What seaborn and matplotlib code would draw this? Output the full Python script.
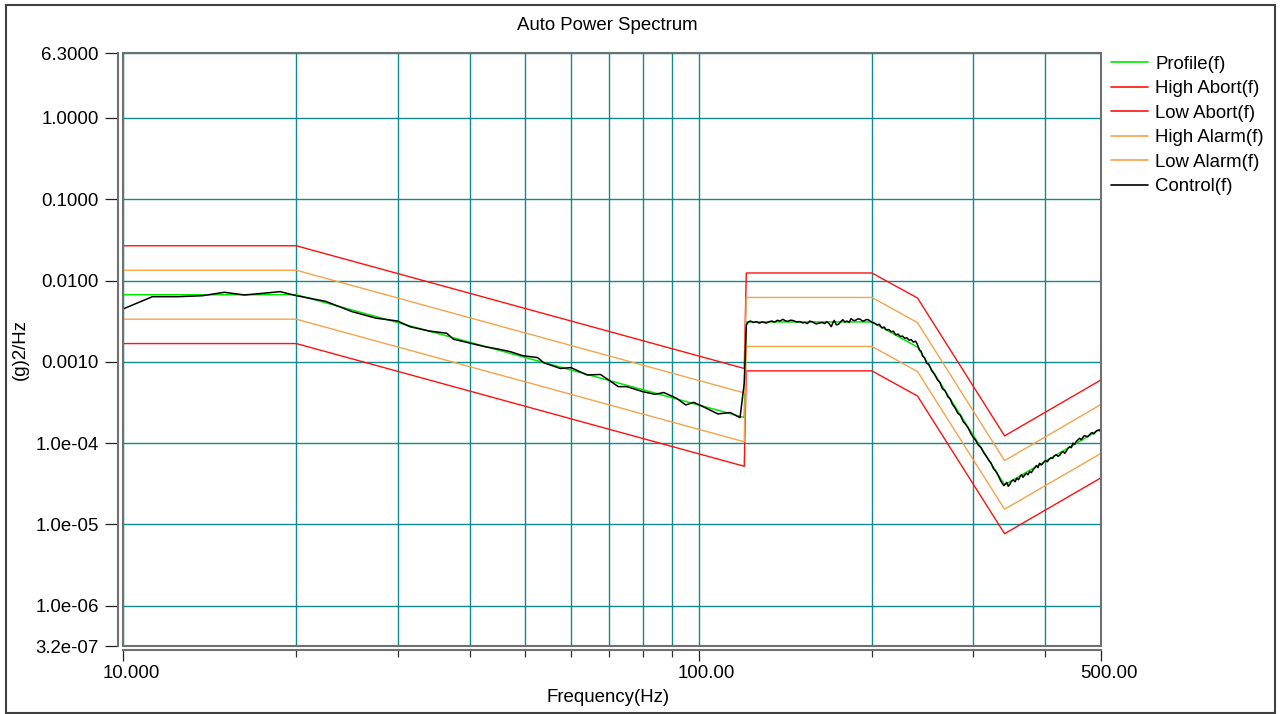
import numpy as np
import pandas as pd
import matplotlib
matplotlib.use("Agg")
import matplotlib.pyplot as plt
import seaborn as sns
from matplotlib.patches import Rectangle
from matplotlib.ticker import FixedLocator, NullLocator, FixedFormatter
from matplotlib.transforms import ScaledTranslation

# ---------------- data ----------------
limit_freq = [10, 20, 120, 121, 200, 240, 340, 500]
profile = [0.0067, 0.0067, 2.07e-4, 3.1e-3, 3.1e-3, 1.52e-3, 3.07e-5, 1.5e-4]
high_abort = [0.0268, 0.0268, 8.3e-4, 0.0124, 0.0124, 6.1e-3, 1.23e-4, 6.0e-4]
low_abort = [0.00168, 0.00168, 5.2e-5, 7.75e-4, 7.75e-4, 3.8e-4, 7.7e-6, 3.75e-5]
high_alarm = [0.0134, 0.0134, 4.15e-4, 6.2e-3, 6.2e-3, 3.04e-3, 6.1e-5, 3.0e-4]
low_alarm = [0.00335, 0.00335, 1.04e-4, 1.55e-3, 1.55e-3, 7.6e-4, 1.54e-5, 7.5e-5]

# control spectrum (frequency Hz, value g^2/Hz)
control_points = [
    (10, 0.00447), (11.25, 0.00634), (12.5, 0.00634), (13.75, 0.00652), (15, 0.00718),
    (16.25, 0.00665), (17.5, 0.00697), (18.75, 0.00731), (20, 0.00652), (22.5, 0.00555),
    (25, 0.00415), (27.5, 0.00345), (30, 0.00318), (31.5, 0.00271), (34, 0.0024),
    (36.5, 0.00225), (37.5, 0.0019), (39.5, 0.00174), (42.5, 0.00154), (45, 0.00143),
    (47, 0.00134), (49.5, 0.00119), (52.5, 0.00113), (53.75, 0.00098), (57.5, 0.00083),
    (60, 0.00085), (64, 0.00069), (67.5, 0.00070), (70, 0.00059), (72.5, 0.000496),
    (75, 0.000496), (80, 0.00043), (84, 0.000399), (87, 0.00042), (91.5, 0.000357),
    (95, 0.000295), (98, 0.000318), (101, 0.000289), (108, 0.000229), (113.5, 0.000238),
    (118, 0.000206), (120, 0.000546), (121, 0.00284), (122, 0.00310), (123, 0.00318),
    (124.5, 0.00305), (126, 0.00312), (127.5, 0.00300), (129, 0.00310), (131, 0.00300),
    (132.5, 0.00312), (134, 0.00318), (135.5, 0.00308), (137, 0.00325), (138.5, 0.00318),
    (140, 0.00334), (141.5, 0.00320), (143, 0.00315), (144.5, 0.00326), (146, 0.00322),
    (148, 0.00310), (150, 0.00313), (151.5, 0.00302), (153, 0.00305), (154.5, 0.00296),
    (156, 0.00318), (158, 0.00308), (160, 0.00293), (162, 0.00300), (164, 0.00305),
    (165.5, 0.00296), (167, 0.00312), (168.5, 0.00295), (170, 0.00271), (171, 0.00300),
    (172, 0.00324), (173.5, 0.00285), (175, 0.00290), (176.5, 0.00312), (178, 0.00330),
    (179.5, 0.00310), (181, 0.00318), (182.5, 0.00305), (184, 0.00340), (185.5, 0.00325),
    (187, 0.00322), (189, 0.00338), (191, 0.00334), (192.5, 0.00318), (194, 0.00320),
    (195.5, 0.00332), (197, 0.00330), (198.5, 0.00318), (200, 0.00307), (202, 0.00300),
    (204, 0.00285), (206, 0.00290), (208, 0.00262), (210, 0.00268), (212, 0.00247),
    (214, 0.00250), (216, 0.00235), (218, 0.00238), (220, 0.00215), (222, 0.00220),
    (224, 0.00205), (226, 0.00208), (228, 0.00195), (230, 0.00198), (232, 0.00185),
    (234, 0.00188), (236, 0.00175), (238, 0.00180), (239.5, 0.00168), (242, 0.0014),
    (243.5, 0.00135), (245, 0.00118), (247, 0.00112), (249, 0.00096), (251, 0.00094),
    (254, 0.00078), (257, 0.00070), (260, 0.0006), (262.5, 0.00056), (265, 0.00047),
    (268, 0.00044), (271, 0.000373), (273.5, 0.00035), (276, 0.0003), (279, 0.00027),
    (282, 0.000233), (285, 0.00022), (288, 0.000185), (291, 0.00017), (294, 0.000153),
    (297, 0.000132), (300, 0.000118), (303, 0.000108), (306, 9.5e-5), (309.5, 8.8e-5),
    (313, 7.6e-5), (316, 6.9e-5), (319, 6.2e-5), (322, 5.7e-5), (325, 4.9e-5),
    (327.5, 4.6e-5), (330, 4.26e-5), (332.5, 3.8e-5), (335, 3.4e-5), (337, 3.2e-5),
    (339, 3.0e-5), (341, 3.15e-5), (343, 3.3e-5), (345, 2.95e-5), (347, 3.1e-5),
    (349.5, 3.4e-5), (352, 3.53e-5), (354.5, 3.35e-5), (357, 3.7e-5), (359.5, 3.55e-5),
    (362, 3.9e-5), (364, 4.1e-5), (366, 3.8e-5), (368.5, 4.05e-5), (371, 4.26e-5),
    (373.5, 4.1e-5), (376, 4.5e-5), (378.5, 4.35e-5), (381, 4.7e-5), (383.5, 4.95e-5),
    (386, 5.3e-5), (388.5, 5.0e-5), (391, 5.66e-5), (393.5, 5.4e-5), (396, 5.6e-5),
    (398.5, 5.95e-5), (401, 6.1e-5), (403.5, 5.9e-5), (406, 6.3e-5), (409, 6.6e-5),
    (412, 6.5e-5), (415, 7.0e-5), (418, 7.2e-5), (421, 6.9e-5), (424, 7.1e-5),
    (427, 7.7e-5), (430, 7.9e-5), (432.5, 7.5e-5), (435, 7.9e-5), (438, 8.6e-5),
    (441, 9.0e-5), (444, 8.8e-5), (447, 1.0e-4), (450, 9.7e-5), (453, 1.05e-4),
    (456, 1.1e-4), (459, 1.15e-4), (462, 1.1e-4), (465, 1.18e-4), (468, 1.24e-4),
    (471, 1.22e-4), (474, 1.2e-4), (477, 1.26e-4), (480, 1.32e-4), (483, 1.35e-4),
    (486, 1.3e-4), (489, 1.38e-4), (492, 1.43e-4), (495, 1.45e-4), (497.5, 1.42e-4),
    (500, 1.5e-4),
]
control_freq = [p[0] for p in control_points]
control = [p[1] for p in control_points]

y_ticks = [6.3, 1.0, 0.1, 0.01, 0.001, 1e-4, 1e-5, 1e-6, 3.2e-7]
y_tick_labels = ["6.3000", "1.0000", "0.1000", "0.0100", "0.0010",
                 "1.0e-04", "1.0e-05", "1.0e-06", "3.2e-07"]
x_major = [10, 100, 500]
x_major_labels = ["10.000", "100.00", "500.00"]
x_minor = [20, 30, 40, 50, 60, 70, 80, 90, 200, 300, 400]

# ---------------- style ----------------
sns.set_style("white")
plt.rcParams["font.family"] = ["Liberation Sans", "DejaVu Sans"]
plt.rcParams["text.color"] = "black"
plt.rcParams["xtick.color"] = "black"
plt.rcParams["ytick.color"] = "black"
plt.rcParams["axes.labelcolor"] = "black"
FS = 13.4

W, H = 1281, 714
fig = plt.figure(figsize=(W / 100, H / 100), dpi=100)
L, R, T, B = 123, 1101, 53, 646
ax = fig.add_axes([L / W, 1 - B / H, (R - L) / W, (B - T) / H])

green = "#00e600"
red = "#ff1010"
orange = "#f5a34c"

series = [
    ("Profile(f)", limit_freq, profile, green, 1.1),
    ("High Abort(f)", limit_freq, high_abort, red, 1.0),
    ("Low Abort(f)", limit_freq, low_abort, red, 1.0),
    ("High Alarm(f)", limit_freq, high_alarm, orange, 1.0),
    ("Low Alarm(f)", limit_freq, low_alarm, orange, 1.0),
    ("Control(f)", control_freq, control, "#000000", 1.1),
]
for i, (name, xs, ys, col, lw) in enumerate(series):
    df = pd.DataFrame({"f": xs, "v": ys})
    sns.lineplot(data=df, x="f", y="v", ax=ax, color=col, lw=lw, label=name,
                 sort=False, estimator=None, zorder=3 + (2 if i == 5 else 0))

ax.set_xscale("log")
ax.set_yscale("log")
ax.set_xlim(10, 500)
ax.set_ylim(3.2e-7, 6.3)

ax.xaxis.set_major_locator(FixedLocator(x_major))
ax.xaxis.set_major_formatter(FixedFormatter(x_major_labels))
ax.xaxis.set_minor_locator(FixedLocator(x_minor))
ax.xaxis.set_minor_formatter(FixedFormatter([""] * len(x_minor)))
ax.yaxis.set_major_locator(FixedLocator(y_ticks))
ax.yaxis.set_major_formatter(FixedFormatter(y_tick_labels))
ax.yaxis.set_minor_locator(NullLocator())

grid_col = "#108a8a"
ax.grid(True, which="major", axis="y", color=grid_col, lw=1.0)
ax.grid(True, which="both", axis="x", color=grid_col, lw=1.0)
ax.set_axisbelow(True)

ax.tick_params(axis="y", which="major", direction="out", length=9.4, width=0.9,
               color="#202020", labelcolor="black", labelsize=FS, pad=4.5, left=True)
ax.tick_params(axis="x", which="major", direction="out", length=8, width=0.9,
               color="#202020", labelcolor="black", labelsize=FS, pad=3, bottom=True)
ax.tick_params(axis="x", which="minor", direction="out", length=5, width=0.9,
               color="#303030", bottom=True)

for s in ["top", "right"]:
    ax.spines[s].set_visible(False)
ax.spines["left"].set_position(("outward", 3.6))
ax.spines["bottom"].set_position(("outward", 2.9))
for s in ["left", "bottom"]:
    ax.spines[s].set_color("#707070")
    ax.spines[s].set_linewidth(1.5)

ax.add_patch(Rectangle((0, 0), 1, 1, transform=ax.transAxes, fill=False,
                       ec="#707070", lw=1.5, clip_on=False, zorder=10))

for lab in ax.get_xticklabels():
    lab.set_transform(lab.get_transform() + ScaledTranslation(8 / 100, 0, fig.dpi_scale_trans))

ax.set_xlabel("")
ax.set_ylabel("")
fig.text(608 / W, 1 - 697 / H, "Frequency(Hz)", ha="center", va="center", fontsize=FS, color="black")
fig.text(20 / W, 1 - 350 / H, "(g)2/Hz", ha="center", va="center", rotation=90, fontsize=FS, color="black")
fig.text(607 / W, 1 - 26 / H, "Auto Power Spectrum", ha="center", va="center", fontsize=FS, color="black")

leg = ax.legend(loc="upper left", bbox_to_anchor=(1107 / W, 1 - 52 / H),
                bbox_transform=fig.transFigure, frameon=False, fontsize=FS,
                handlelength=2.0, handletextpad=0.4, labelspacing=0.40,
                borderaxespad=0, borderpad=0.2, labelcolor="black")
for lh in leg.get_lines():
    lh.set_linewidth(1.2)

fig.patches.append(Rectangle((6 / W, 1 - 713 / H), (1275 - 6) / W, (713 - 5) / H,
                             transform=fig.transFigure, fill=False, ec="#404040",
                             lw=1.5, figure=fig))

fig.savefig("out.png", dpi=100)
